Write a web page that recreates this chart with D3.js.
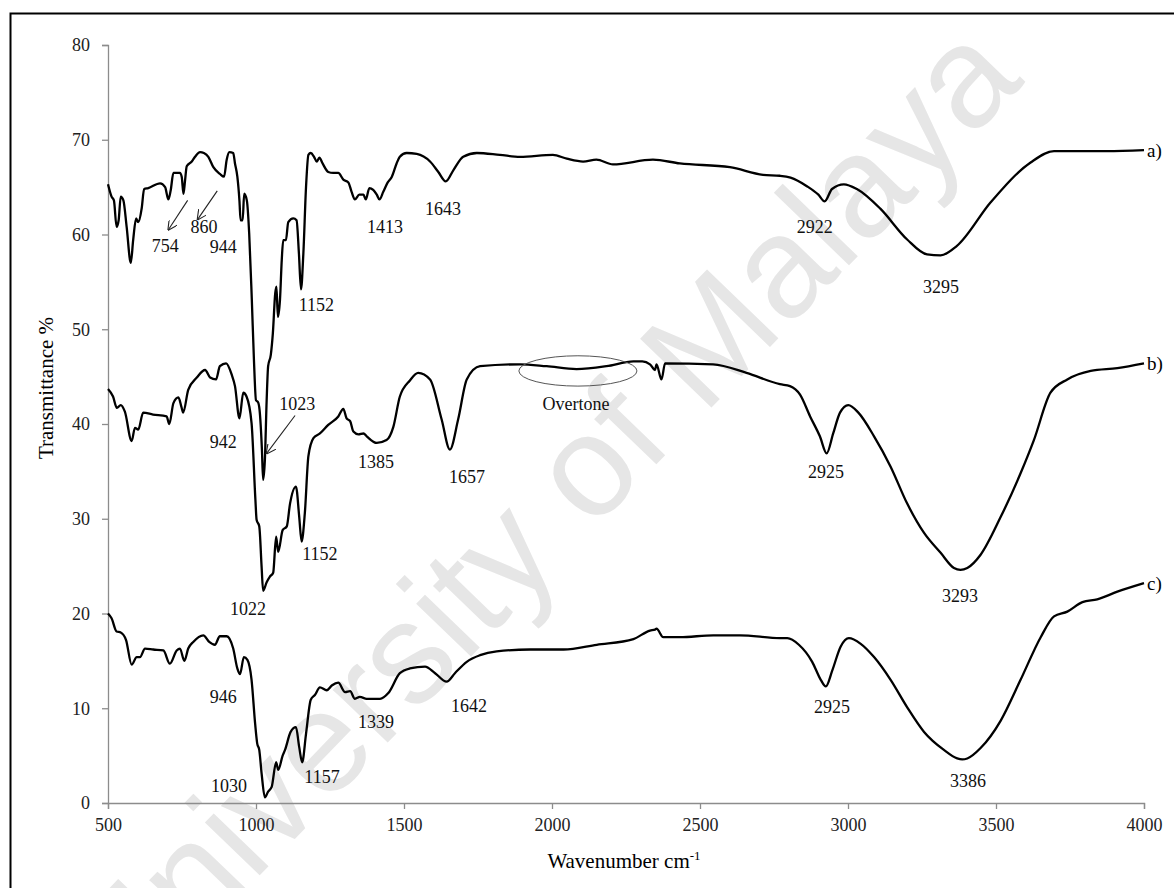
<!DOCTYPE html>
<html>
<head>
<meta charset="utf-8">
<script src="https://cdn.jsdelivr.net/npm/d3@7"></script>
<style>
  body { margin: 0; background: #fff; }
  #chart { width: 1174px; height: 888px; }
</style>
</head>
<body>
<div id="chart"></div>
<script>
// FTIR spectra, [wavenumber, transmittance %]
var seriesA = [[500,65.3],[512,64.0],[520,63.6],[529,60.8],[536,61.5],[543,64.0],[552,63.6],[563,60.8],[577,57.0],[585,59.4],[595,61.7],[602,61.3],[614,62.8],[622,64.8],[636,64.9],[676,65.4],[693,65.0],[704,63.7],[712,64.7],[721,66.5],[743,66.5],[749,66.1],[755,64.3],[760,65.6],[766,67.2],[783,67.7],[794,68.2],[811,68.7],[824,68.6],[839,68.2],[856,67.1],[878,66.4],[892,66.1],[901,67.9],[910,68.7],[923,68.6],[929,67.5],[937,66.1],[944,63.6],[948,61.5],[955,61.5],[960,64.3],[969,63.6],[977,60.1],[986,53.0],[993,46.8],[1000,42.5],[1007,42.3],[1012,41.5],[1020,37.3],[1024,34.1],[1030,36.2],[1036,42.5],[1041,46.1],[1050,47.3],[1057,49.6],[1065,53.8],[1069,54.5],[1074,51.3],[1081,53.1],[1087,57.3],[1092,59.4],[1101,59.4],[1109,61.3],[1126,61.7],[1137,61.5],[1145,58.0],[1152,54.2],[1160,58.0],[1169,65.0],[1177,68.4],[1185,68.6],[1196,68.2],[1205,67.7],[1214,68.1],[1225,67.5],[1244,66.6],[1261,66.5],[1278,66.5],[1295,65.8],[1312,65.5],[1323,64.5],[1334,63.7],[1349,64.2],[1363,64.2],[1371,63.7],[1383,64.9],[1396,64.7],[1408,64.2],[1417,63.7],[1430,64.5],[1445,65.5],[1459,66.1],[1475,67.5],[1486,68.2],[1509,68.6],[1543,68.5],[1588,67.7],[1616,66.6],[1641,65.6],[1667,66.8],[1700,68.2],[1746,68.6],[1824,68.4],[1892,68.2],[2003,68.4],[2050,68.0],[2105,67.7],[2150,67.9],[2206,67.4],[2341,67.9],[2432,67.5],[2601,67.1],[2713,66.3],[2770,66.2],[2806,66.0],[2861,65.1],[2900,64.2],[2921,63.5],[2946,64.8],[2986,65.3],[3030,64.8],[3110,62.7],[3199,59.5],[3267,57.9],[3313,57.8],[3368,58.8],[3482,63.4],[3617,67.6],[3696,68.8],[3875,68.8],[4000,68.9]];

var seriesB = [[500,43.7],[517,42.9],[530,41.7],[543,42.0],[557,41.3],[580,38.2],[591,39.6],[602,39.4],[619,41.2],[652,41.0],[698,40.8],[707,40.0],[721,42.2],[738,42.8],[748,41.8],[754,41.2],[771,43.6],[800,44.9],[828,45.7],[845,44.9],[865,44.7],[878,46.1],[899,46.4],[918,45.2],[929,44.0],[944,40.6],[957,43.3],[968,42.9],[985,40.1],[998,32.0],[1002,29.9],[1011,29.2],[1019,24.9],[1024,22.4],[1036,23.3],[1047,23.9],[1058,24.3],[1068,28.1],[1075,26.5],[1090,28.8],[1104,29.2],[1115,31.6],[1135,33.4],[1146,30.2],[1154,27.6],[1165,30.6],[1177,36.6],[1194,38.5],[1216,39.0],[1244,39.9],[1278,40.8],[1295,41.6],[1306,40.6],[1318,40.3],[1329,39.2],[1346,38.9],[1363,39.0],[1374,38.7],[1408,38.0],[1441,38.3],[1464,39.7],[1486,42.9],[1520,44.6],[1548,45.4],[1588,44.7],[1627,40.5],[1655,37.3],[1683,40.5],[1712,44.7],[1757,46.1],[1892,46.3],[1982,46.1],[2083,45.8],[2184,46.1],[2275,46.6],[2305,46.6],[2331,46.3],[2348,45.7],[2353,46.3],[2370,44.7],[2382,46.4],[2544,46.3],[2657,45.4],[2770,44.2],[2804,44.0],[2838,43.1],[2872,40.8],[2905,38.7],[2928,36.9],[2950,39.0],[2973,41.2],[3001,42.0],[3035,41.2],[3088,38.7],[3144,35.5],[3200,31.6],[3257,28.5],[3313,26.4],[3358,24.8],[3380,24.6],[3403,24.8],[3448,26.2],[3516,30.2],[3583,34.8],[3628,38.3],[3684,43.3],[3741,44.7],[3820,45.6],[3910,45.9],[4000,46.4]];

var seriesC = [[500,20.0],[512,19.5],[529,18.1],[543,18.0],[561,17.2],[580,14.6],[597,15.4],[608,15.4],[625,16.3],[653,16.2],[687,16.1],[709,14.7],[732,16.1],[743,16.3],[758,15.0],[771,16.3],[788,17.0],[822,17.7],[842,17.0],[861,16.7],[878,17.6],[901,17.6],[923,16.3],[937,14.2],[946,13.6],[959,15.4],[971,15.1],[985,13.0],[997,8.4],[1004,6.3],[1011,5.6],[1019,3.1],[1030,0.6],[1041,1.2],[1053,1.7],[1068,4.3],[1075,3.5],[1090,5.0],[1098,5.6],[1117,7.5],[1135,8.0],[1146,5.9],[1156,4.3],[1169,7.3],[1185,10.9],[1199,11.4],[1216,12.2],[1239,11.9],[1256,12.4],[1278,12.7],[1301,11.7],[1318,11.8],[1334,11.0],[1351,11.2],[1374,11.0],[1419,11.0],[1447,11.6],[1486,13.7],[1520,14.2],[1571,14.4],[1605,13.7],[1644,12.8],[1672,13.7],[1712,14.9],[1757,15.6],[1813,16.0],[1926,16.2],[2039,16.2],[2151,16.7],[2275,17.3],[2331,18.2],[2348,18.3],[2353,18.4],[2376,17.5],[2432,17.5],[2545,17.7],[2635,17.7],[2770,17.4],[2795,17.4],[2834,16.7],[2879,14.9],[2908,13.0],[2925,12.3],[2947,14.0],[2975,16.5],[3003,17.4],[3043,16.8],[3088,15.4],[3144,13.0],[3200,10.1],[3257,7.5],[3324,5.6],[3369,4.7],[3386,4.6],[3403,4.7],[3448,5.8],[3516,8.7],[3583,13.0],[3651,17.5],[3696,19.7],[3741,20.2],[3792,21.2],[3842,21.5],[3910,22.3],[4000,23.2]];

// peak labels: [text, wavenumber, transmittance] (text centre / baseline)
var peakLabels = [
  ["754",693,58.2],["860",824,60.2],["944",889,58.0],["1152",1204,51.9],["1413",1436,60.2],
  ["1643",1632,62.1],["2922",2888,60.2],["3295",3314,53.8],
  ["942",889,37.5],["1023",1139,41.5],["1385",1405,35.4],["1657",1713,33.8],["Overtone",2081,41.5],
  ["2925",2926,34.3],["1152",1216,25.6],["1022",973,19.8],["3293",3378,21.2],
  ["946",889,10.6],["1030",909,1.2],["1157",1223,2.1],["1339",1405,7.9],["1642",1720,9.6],
  ["2925",2946,9.5],["3386",3405,1.7]
];

var seriesNames = ["a)","b)","c)"];

// arrows: [from wn, from T, to wn, to T]
var arrows = [[769,63.6,704,60.5],[869,64.6,803,61.6],[1132,40.9,1036,36.9]];

// ellipse round the overtone region: [wn min, wn max, T min, T max]
var overtoneBox = [1888,2287,44.0,47.2];

var xTicks = [500,1000,1500,2000,2500,3000,3500,4000];
var yTicks = [0,10,20,30,40,50,60,70,80];

var W = 1174, H = 888;
var serif = "Liberation Serif, DejaVu Serif, serif";

var svg = d3.select("#chart").append("svg")
    .attr("width", W)
    .attr("height", H)
    .style("display", "block");

svg.append("defs").append("marker")
    .attr("id", "arrowhead")
    .attr("viewBox", "0 0 10 10")
    .attr("refX", 9).attr("refY", 5)
    .attr("markerWidth", 9).attr("markerHeight", 9)
    .attr("orient", "auto")
  .append("path")
    .attr("d", "M0,0 L10,5 L0,10")
    .attr("fill", "none")
    .attr("stroke", "#222")
    .attr("stroke-width", 1.1);

// watermark
svg.append("text")
    .attr("transform", "translate(548,522) rotate(-46)")
    .attr("text-anchor", "middle")
    .attr("dominant-baseline", "middle")
    .attr("font-family", "Liberation Sans, Arial, sans-serif")
    .attr("font-size", 144)
    .attr("fill", "#e6e6e6")
    .text("University of Malaya");

// frame (top and left edges show)
svg.append("path")
    .attr("d", "M10.5,888 L10.5,13.5 L1174,13.5")
    .attr("fill", "none")
    .attr("stroke", "#000")
    .attr("stroke-width", 2);

var x = d3.scaleLinear().domain([500, 4000]).range([108, 1144]);
var y = d3.scaleLinear().domain([0, 80]).range([803, 45]);

var xAxis = svg.append("g")
    .attr("transform", "translate(0,803)")
    .call(d3.axisBottom(x).tickValues(xTicks).tickSize(6).tickPadding(9).tickFormat(d3.format("d")));
var yAxis = svg.append("g")
    .attr("transform", "translate(108,0)")
    .call(d3.axisLeft(y).tickValues(yTicks).tickSize(6).tickPadding(12).tickFormat(d3.format("d")));

[xAxis, yAxis].forEach(function(ax) {
  ax.attr("font-family", serif).attr("font-size", 18);
  ax.select(".domain").attr("stroke", "#8c8c8c").attr("stroke-width", 1.3);
  ax.selectAll(".tick line").attr("stroke", "#8c8c8c").attr("stroke-width", 1.3);
  ax.selectAll(".tick text").attr("fill", "#222");
});

// axis titles
svg.append("text")
    .attr("transform", "translate(53,388) rotate(-90)")
    .attr("text-anchor", "middle")
    .attr("font-family", serif)
    .attr("font-size", 21)
    .text("Transmittance %");

var xt = svg.append("text")
    .attr("x", 624).attr("y", 868)
    .attr("text-anchor", "middle")
    .attr("font-family", serif)
    .attr("font-size", 21);
xt.append("tspan").text("Wavenumber cm");
xt.append("tspan").attr("dy", -8).attr("font-size", 13).text("-1");

// spectra
var line = d3.line()
    .x(function(d) { return x(d[0]); })
    .y(function(d) { return y(d[1]); })
    .curve(d3.curveMonotoneX);

var allSeries = [seriesA, seriesB, seriesC];
svg.selectAll(".spectrum")
    .data(allSeries)
    .enter().append("path")
    .attr("class", "spectrum")
    .attr("d", line)
    .attr("fill", "none")
    .attr("stroke", "#000")
    .attr("stroke-width", 2.3)
    .attr("stroke-linejoin", "round");

// series names at right end
svg.selectAll(".sname")
    .data(allSeries)
    .enter().append("text")
    .attr("class", "sname")
    .attr("x", function(d) { return x(d[d.length - 1][0]) + 3; })
    .attr("y", function(d) { return y(d[d.length - 1][1]) + 7; })
    .attr("font-family", serif)
    .attr("font-size", 19)
    .text(function(d, i) { return seriesNames[i]; });

// overtone ellipse
svg.append("ellipse")
    .attr("cx", (x(overtoneBox[0]) + x(overtoneBox[1])) / 2)
    .attr("cy", (y(overtoneBox[2]) + y(overtoneBox[3])) / 2)
    .attr("rx", (x(overtoneBox[1]) - x(overtoneBox[0])) / 2)
    .attr("ry", (y(overtoneBox[2]) - y(overtoneBox[3])) / 2)
    .attr("fill", "none")
    .attr("stroke", "#555")
    .attr("stroke-width", 1);

// arrows
svg.selectAll(".arrow")
    .data(arrows)
    .enter().append("line")
    .attr("class", "arrow")
    .attr("x1", function(d) { return x(d[0]); })
    .attr("y1", function(d) { return y(d[1]); })
    .attr("x2", function(d) { return x(d[2]); })
    .attr("y2", function(d) { return y(d[3]); })
    .attr("stroke", "#222")
    .attr("stroke-width", 1.1)
    .attr("marker-end", "url(#arrowhead)");

// peak labels
svg.selectAll(".peak")
    .data(peakLabels)
    .enter().append("text")
    .attr("class", "peak")
    .attr("x", function(d) { return x(d[1]); })
    .attr("y", function(d) { return y(d[2]); })
    .attr("text-anchor", "middle")
    .attr("font-family", serif)
    .attr("font-size", 18)
    .attr("fill", "#111")
    .text(function(d) { return d[0]; });
</script>
</body>
</html>
